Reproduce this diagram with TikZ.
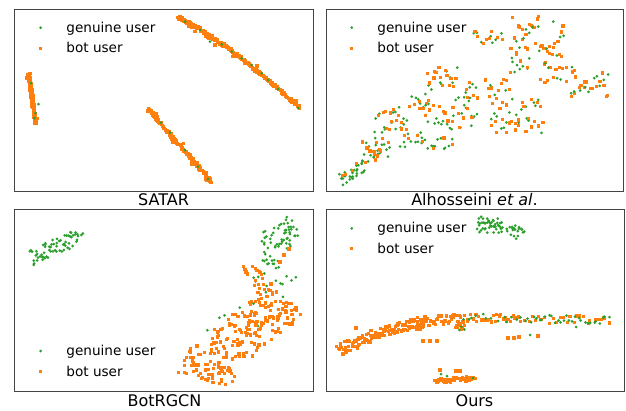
\documentclass[tikz,border=0pt]{standalone}
\usepackage{fontspec}
\setmainfont{DejaVu Sans}
\definecolor{gcol}{HTML}{2CA02C}
\definecolor{ocol}{HTML}{FF7F0E}
\definecolor{spine}{HTML}{444444}
\tikzset{
  frame/.style={draw=spine, line width=0.9pt},
  ttl/.style={anchor=base, inner sep=0pt, font=\fontsize{16}{18}\selectfont},
  lgd/.style={anchor=base west, inner sep=0pt, font=\fontsize{13.6}{16}\selectfont},
  gdot/.style={fill=gcol},
  osq/.style={fill=ocol},
}
% markers: genuine user = small green dot, bot user = small orange square
\newcommand\mkG[2]{\fill[gdot] (#1,#2) circle (1.5);}
\newcommand\mkO[2]{\fill[osq] (#1-1.6,#2-1.6) rectangle ++(3.2,3.2);}
% #2 markers in a box of half sizes #5,#6 round (#3,#4), stratified in x
\newcommand\cloud[6]{%
  \foreach \k in {1,...,#2}{%
    \pgfmathsetmacro\lpu{rnd}\pgfmathsetmacro\lpv{rnd}%
    \pgfmathsetmacro\lpw{rand}%
    \pgfmathsetmacro\lpx{#3+#5*(2*(\k-\lpu)/#2-1)+0.8*rand}%
    \pgfmathsetmacro\lpy{#4+#6*\lpw}%
    #1{\lpx}{\lpy}%
  }}
% #2 markers in a band of half width #7 along (#3,#4)--(#5,#6)
\newcommand\band[7]{%
  \pgfmathsetmacro\lpl{veclen(#5-#3,#6-#4)}%
  \foreach \k in {1,...,#2}{%
    \pgfmathsetmacro\lpu{rnd}\pgfmathsetmacro\lpv{rnd}%
    \pgfmathsetmacro\lpt{(\k-\lpu)/#2}%
    \pgfmathsetmacro\lps{#7*rand/\lpl}%
    \pgfmathsetmacro\lpx{#3+\lpt*(#5-#3)-\lps*(#6-#4)}%
    \pgfmathsetmacro\lpy{#4+\lpt*(#6-#4)+\lps*(#5-#3)}%
    #1{\lpx}{\lpy}%
  }}
% legend block with its top marker at (#2,#3)
\newcommand\keyblock[3]{%
  \mkG{#2}{#3}
  \mkO{#2}{#3+20.5}
  \node[lgd] (#1g) at (#2+25.5,#3+4.5) {genuine user};
  \node[lgd] (#1b) at (#2+25.5,#3+25) {bot user};
}
\begin{document}
\begin{tikzpicture}[x=1pt,y=-1pt]
\useasboundingbox (0,0) rectangle (626,410);
\pgfmathsetseed{4242}

% ---------------- SATAR ----------------
% left stripe
\band\mkO{70}{29}{74}{35.5}{124}{1.4}
\cloud\mkO{16}{29}{76}{1.8}{3}
\cloud\mkO{16}{35.5}{121}{1.4}{3.5}
\foreach \a/\b in {38.5/104, 31/83, 35.5/113, 34.5/118}{\mkG{\a}{\b}}
% long upper stripe
\band\mkO{50}{178}{17}{202.5}{30.75}{1.5}
\band\mkO{50}{202.5}{30.75}{231}{50.5}{1.5}
\band\mkO{55}{231}{50.5}{263.5}{76.25}{1.5}
\band\mkO{60}{263.5}{76.25}{300}{108}{1.5}
\foreach \a/\b in {181/19, 190/25, 206.7/36.7, 223/45, 235/55, 255/68, 283/93, 295/102}{%
  \cloud\mkO{7}{\a}{\b}{2}{2}}
\foreach \a/\b in {195/31.7, 215/45}{\mkO{\a}{\b}}
\foreach \a/\b in {185/21.7, 200/30, 221.7/44.3, 210/41.7, 231.7/51.7, 241.7/58.3, 251.7/65, 261.7/73.3, 268/80, 278/89, 298/108}{\mkG{\a}{\b}}
% middle stripe
\band\mkO{100}{148}{109}{212}{182}{1.7}
\foreach \a/\b in {149/110, 155/115, 173/140, 193/163, 207/178}{%
  \cloud\mkO{7}{\a}{\b}{2}{2}}
\foreach \a/\b in {183.3/143.3, 173/142.7, 210/181.7, 209/178}{\mkO{\a}{\b}}
\foreach \a/\b in {161/122.7, 170/132.7, 185/150, 198/166.7, 208/179}{\mkG{\a}{\b}}
\draw[frame] (14,9) rectangle (313,191);
\keyblock{ka}{40.7}{27.7}
\node[ttl] (t1) at (163.5,205) {SATAR};

% ---------------- Alhosseini et al. ----------------
\band\mkG{28}{340}{180}{365}{165}{6}
\band\mkO{4}{340}{180}{365}{165}{6}
\cloud\mkG{10}{370}{153}{8}{13}
\cloud\mkO{6}{370}{153}{8}{13}
\cloud\mkG{16}{382}{135}{8}{26}
\cloud\mkO{12}{382}{135}{8}{26}
\cloud\mkG{10}{398}{120}{9}{13}
\cloud\mkO{8}{398}{120}{9}{13}
\cloud\mkG{8}{410}{139}{12}{8}
\cloud\mkO{3}{410}{139}{12}{8}
\cloud\mkG{7}{420}{101}{10}{8}
\cloud\mkO{7}{420}{101}{10}{8}
\cloud\mkG{10}{440}{118}{15}{13}
\cloud\mkO{8}{440}{118}{15}{13}
\cloud\mkG{10}{442}{78}{15}{12}
\cloud\mkO{14}{442}{78}{15}{12}
\cloud\mkG{14}{435}{143}{18}{6}
\cloud\mkO{4}{435}{143}{18}{6}
\cloud\mkG{12}{465}{115}{12}{18}
\cloud\mkO{8}{465}{115}{12}{18}
\cloud\mkG{6}{470}{88}{7}{11}
\cloud\mkO{3}{470}{88}{7}{11}
\cloud\mkO{10}{497}{88}{13}{11}
\cloud\mkG{3}{497}{88}{13}{11}
\cloud\mkG{18}{517}{115}{27}{18}
\cloud\mkO{26}{517}{115}{27}{18}
\cloud\mkG{8}{488}{38}{15}{8}
\cloud\mkO{8}{488}{38}{15}{8}
\cloud\mkO{35}{537}{40}{27}{24}
\cloud\mkG{15}{537}{40}{27}{24}
\cloud\mkG{7}{520}{67}{10}{10}
\cloud\mkO{3}{520}{67}{10}{10}
\cloud\mkO{12}{558}{75}{18}{8}
\cloud\mkG{4}{558}{75}{18}{8}
\cloud\mkO{16}{590}{84}{20}{13}
\cloud\mkG{10}{590}{84}{20}{13}
\draw[frame] (326,9) rectangle (623,191);
\keyblock{kb}{351.7}{27.7}
\node[ttl] (t2) at (474.5,205) {Alhosseini \textit{et al}.};

% ---------------- BotRGCN ----------------
\band\mkG{62}{30}{258}{78}{237}{8}
\cloud\mkG{4}{80}{235}{4}{2}
\band\mkG{40}{262}{243}{297}{228}{10}
\band\mkG{12}{288}{216}{288}{250}{4}
\band\mkG{16}{262}{256}{280}{266}{5}
\band\mkG{12}{250}{279}{298}{277}{8}
\band\mkG{9}{205}{330}{295}{300}{18}
\band\mkO{180}{198}{372}{288}{298}{23}
\band\mkO{30}{180}{365}{235}{380}{8}
\band\mkO{24}{245}{265}{270}{300}{8}
\band\mkO{24}{240}{336}{298}{306}{6}
\foreach \a/\b in {289/249, 284/255, 280/262}{\mkO{\a}{\b}}
\draw[frame] (14,209) rectangle (313,391);
\keyblock{kc}{40.7}{351}
\node[ttl] (t3) at (164.5,406) {BotRGCN};

% ---------------- Ours ----------------
\band\mkG{45}{477}{224}{503}{226}{8}
\band\mkG{20}{509}{226}{521}{236}{6}
\band\mkO{55}{338}{350}{378}{333}{6}
\band\mkO{55}{378}{333}{420}{322}{5}
\band\mkO{35}{420}{322}{460}{318}{5}
\band\mkO{30}{460}{318}{520}{318}{4}
\band\mkG{12}{460}{318}{520}{318}{4}
\band\mkO{26}{520}{319}{610}{320}{4}
\band\mkG{30}{520}{319}{610}{320}{4}
\cloud\mkO{14}{420}{327}{4}{4}
\cloud\mkO{12}{460}{326}{4}{4}
\cloud\mkG{3}{461}{326}{4}{4}
\foreach \a/\b in {423/341, 430/341, 437/341, 508/338, 514/338, 519/337, 538/336, 356/328}{\mkO{\a}{\b}}
\foreach \a/\b in {530/335, 576/327}{\mkG{\a}{\b}}
\band\mkO{45}{435}{381}{476}{378}{2.5}
\foreach \a/\b in {440/370, 456/371, 460/371}{\mkO{\a}{\b}}
\foreach \a/\b in {447/376, 473/378, 441/374}{\mkG{\a}{\b}}
\draw[frame] (326,209) rectangle (624,391);
\keyblock{kd}{351.7}{228.3}
\node[ttl] (t4) at (474.5,406) {Ours};
\end{tikzpicture}
\end{document}
